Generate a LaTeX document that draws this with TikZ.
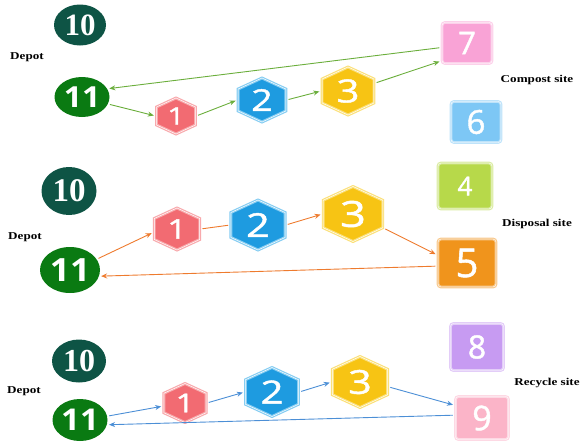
\documentclass[tikz,border=0pt]{standalone}
\usepackage{fontspec}
\usepackage{graphicx}
\setmainfont{Liberation Serif}
\newfontfamily\digfont[FakeBold=1.3]{Open Sans}
\newfontfamily\elsans{Open Sans}
\usetikzlibrary{shapes.geometric,arrows.meta}
\definecolor{hred}{HTML}{F26B72}
\definecolor{hredl}{HTML}{F8A9AC}
\definecolor{hblue}{HTML}{1E9BE0}
\definecolor{hbluel}{HTML}{86CDF2}
\definecolor{hyel}{HTML}{F7C414}
\definecolor{hyell}{HTML}{FBE07A}
\definecolor{dgreen}{HTML}{0E5445}
\definecolor{mgreen}{HTML}{0A7A12}
\definecolor{spink}{HTML}{F9A3D6}
\definecolor{slblue}{HTML}{7DC7F5}
\definecolor{slime}{HTML}{B7D94A}
\definecolor{sorange}{HTML}{F0941C}
\definecolor{spurple}{HTML}{C79BF2}
\definecolor{srose}{HTML}{FBB4C8}
\definecolor{agreen}{HTML}{6BAE3C}
\definecolor{aorange}{HTML}{EE7B2E}
\definecolor{ablue}{HTML}{4C8FD6}
\newcommand{\dg}[2]{\digfont\fontsize{#1}{#1}\selectfont #2}
\newcommand{\elv}[1]{\scalebox{1.1}[1]{\elsans\bfseries\fontsize{#1}{#1}\selectfont 11}}
\newcommand{\lbl}[1]{\scalebox{1.25}[1]{\fontsize{10.5}{12}\selectfont\bfseries #1}}
\begin{document}
\begin{tikzpicture}[x=1pt,y=1pt,
  hexa/.style={regular polygon, regular polygon sides=6, shape border rotate=30,
    inner sep=0pt, xscale=1.25, transform shape, text=white,
    line width=1.2pt, double=white, double distance=0.5pt},
  sq/.style={rectangle, rounded corners=3pt, inner sep=0pt, text=white,
    line width=1.2pt, double=white, double distance=0.4pt},
  ell/.style={ellipse, inner sep=0pt, text=white},
  lab/.style={inner sep=0pt},
  arr/.style={-{Stealth[length=6pt,width=5pt]}, line width=0.9pt, shorten >=2pt, shorten <=2pt},
  pl/.style={line width=0.9pt, shorten >=2pt, shorten <=2pt}]
\useasboundingbox (0,0) rectangle (585,-445);
% ---------------- panel 1
\node[ell, fill=dgreen, minimum width=52pt, minimum height=41pt] (ae10) at (80,-25) {\fontsize{31}{31}\selectfont\bfseries 10};
\node[ell, fill=mgreen, minimum width=55pt, minimum height=40pt] (ae11) at (82,-97) {\elv{29}};
\node[lab] (adep) at (27,-57) {\lbl{Depot}};
\node[hexa, minimum size=36pt, fill=hred, draw=hredl] (ah1) at (176,-116) {\dg{24}{1}};
\node[hexa, minimum size=44pt, fill=hblue, draw=hbluel] (ah2) at (262,-100) {\dg{30}{2}};
\node[hexa, minimum size=48pt, fill=hyel, draw=hyell] (ah3) at (348,-91) {\dg{32}{3}};
\node[sq, minimum width=50pt, minimum height=41pt, fill=spink, draw=spink!50!white] (as7) at (467,-43) {\dg{31}{7}};
\node[sq, minimum width=50pt, minimum height=41pt, fill=slblue, draw=slblue!50!white] (as6) at (476,-122) {\dg{33}{6}};
\node[lab] (acomp) at (537,-80) {\lbl{Compost site}};
\draw[arr, agreen] (as7.190) -- (ae11.18);
\draw[arr, agreen] (ae11.-15) -- (ah1.west);
\draw[arr, agreen] (ah1.east) -- (ah2.west);
\draw[arr, agreen] (ah2.east) -- (ah3.west);
\draw[arr, agreen] (ah3.20) -- (as7.215);
% ---------------- panel 2
\node[ell, fill=dgreen, minimum width=55pt, minimum height=48pt] (be10) at (69,-191) {\fontsize{33}{33}\selectfont\bfseries 10};
\node[ell, fill=mgreen, minimum width=60pt, minimum height=46pt] (be11) at (70,-270) {\elv{32}};
\node[lab] (bdep) at (25,-237) {\lbl{Depot}};
\node[hexa, minimum size=42pt, fill=hred, draw=hredl] (bh1) at (177,-229) {\dg{27}{1}};
\node[hexa, minimum size=50pt, fill=hblue, draw=hbluel] (bh2) at (258,-225) {\dg{33}{2}};
\node[hexa, minimum size=55pt, fill=hyel, draw=hyell] (bh3) at (353,-214) {\dg{36}{3}};
\node[sq, minimum width=54pt, minimum height=46pt, fill=slime, draw=slime!50!white] (bs4) at (465,-186) {\dg{26}{4}};
\node[sq, minimum width=58pt, minimum height=48pt, fill=sorange, draw=sorange!50!white] (bs5) at (467,-263) {\dg{40}{5}};
\node[lab] (bdisp) at (537,-224) {\lbl{Disposal site}};
\draw[arr, aorange] (be11.22) -- (bh1.190);
\draw[pl, aorange] (bh1.east) -- (bh2.west);
\draw[arr, aorange] (bh2.east) -- (bh3.west);
\draw[arr, aorange] (bh3.-30) -- (bs5.165);
\draw[arr, aorange] (bs5.186) -- (be11.-12);
% ---------------- panel 3
\node[ell, fill=dgreen, minimum width=54pt, minimum height=43pt] (ce10) at (79,-361) {\fontsize{32}{32}\selectfont\bfseries 10};
\node[ell, fill=mgreen, minimum width=55pt, minimum height=42pt] (ce11) at (80,-420) {\elv{30}};
\node[lab] (cdep) at (24,-391) {\lbl{Depot}};
\node[hexa, minimum size=39pt, fill=hred, draw=hredl] (ch1) at (185,-403) {\dg{26}{1}};
\node[hexa, minimum size=49pt, fill=hblue, draw=hbluel] (ch2) at (272,-392) {\dg{32}{2}};
\node[hexa, minimum size=51pt, fill=hyel, draw=hyell] (ch3) at (360,-382) {\dg{33}{3}};
\node[sq, minimum width=53pt, minimum height=47pt, fill=spurple, draw=spurple!50!white] (cs8) at (477,-347) {\dg{32}{8}};
\node[sq, minimum width=53pt, minimum height=43pt, fill=srose, draw=srose!50!white] (cs9) at (482,-418) {\dg{34}{9}};
\node[lab] (crec) at (547,-383) {\lbl{Recycle site}};
\draw[arr, ablue] (ce11.8) -- (ch1.190);
\draw[arr, ablue] (ch1.east) -- (ch2.west);
\draw[arr, ablue] (ch2.east) -- (ch3.west);
\draw[arr, ablue] (ch3.-12) -- (cs9.155);
\draw[arr, ablue] (cs9.174) -- (ce11.-10);
\end{tikzpicture}
\end{document}
